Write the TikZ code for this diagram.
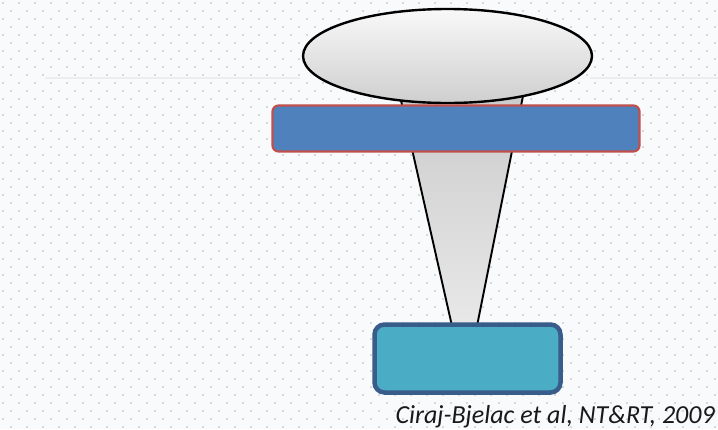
\documentclass[tikz,border=0pt]{standalone}
\usepackage{fontspec}
\setmainfont{Carlito}
\newfontfamily\citefont{Carlito}
\usetikzlibrary{shapes.geometric}
\definecolor{bgcol}{HTML}{F8FAFB}
\definecolor{dotcol}{HTML}{B4B8BC}
\definecolor{rulecol}{HTML}{EBEDEF}
\definecolor{barfill}{HTML}{4F81BD}
\definecolor{barline}{HTML}{C0504D}
\definecolor{boxfill}{HTML}{4BACC6}
\definecolor{boxline}{HTML}{385D8A}
\tikzset{
  lens/.style={ellipse, draw=black, line width=2.4pt, top color=gray!5, bottom color=gray!38, minimum width=289pt, minimum height=94pt, inner sep=0pt},
  barbox/.style={rectangle, rounded corners=6pt, draw=barline, line width=2.2pt, fill=barfill, minimum width=367pt, minimum height=46pt, inner sep=0pt},
  detbox/.style={rectangle, rounded corners=10pt, draw=boxline, line width=4.5pt, fill=boxfill, minimum width=186pt, minimum height=68pt, inner sep=0pt},
  beam/.style={draw=black, line width=1.9pt, top color=gray!40, bottom color=gray!18},
  citetext/.style={font=\citefont\itshape\fontsize{26}{26}\selectfont, text=black!90, inner sep=0pt}
}
\begin{document}
\begin{tikzpicture}[x=1pt,y=-1pt]
\fill[bgcol] (0,0) rectangle (718,429);
\useasboundingbox (0,0) rectangle (718,429);
% dotted background
\foreach \r in {0,...,53}{
  \foreach \c in {0,...,45}{
    \fill[dotcol] ({\c*16 + mod(\r,2)*8 + 3},{\r*8 + 3}) circle (0.9);
  }
}
% faint ruler
\draw[rulecol, line width=2pt] (45,78) -- (300,78);
\draw[rulecol, line width=2pt] (590,78) -- (718,78);
% beam (cone)
\coordinate (tl) at (400,96);
\coordinate (tr) at (523,96);
\coordinate (bl) at (452,326);
\coordinate (br) at (477,326);
\path[beam] (tl) -- (bl) -- (br) -- (tr) -- cycle;
\fill[gray!40] (tl) -- (tr) -- (523,92) -- (400,92) -- cycle;
% lens / source
\node[lens] (src) at (447.5,56) {};
% filter bar
\node[barbox] (bar) at (456,128.5) {};
% detector box
\node[detbox] (det) at (467.5,358.5) {};
% citation
\node[citetext, anchor=base east] (cite) at (715,423) {Ciraj-Bjelac et al, NT\&RT, 2009};
\end{tikzpicture}
\end{document}
